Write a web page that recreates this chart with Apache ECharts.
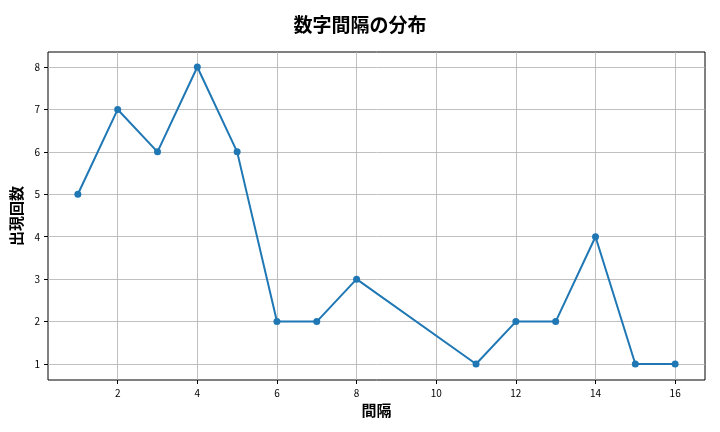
<!DOCTYPE html>
<html><head><meta charset="utf-8">
<script src="https://cdn.jsdelivr.net/npm/echarts@6/dist/echarts.min.js"></script>
<style>body{margin:0}#c{width:720px;height:432px}</style>
</head><body><div id="c"></div>
<script>
var gaps = [1, 2, 3, 4, 5, 6, 7, 8, 11, 12, 13, 14, 15, 16];
var counts = [5, 7, 6, 8, 6, 2, 2, 3, 1, 2, 2, 4, 1, 1];
var xTicks = [2, 4, 6, 8, 10, 12, 14, 16];
var yTicks = [1, 2, 3, 4, 5, 6, 7, 8];

var font = '"Noto Sans CJK JP", "DejaVu Sans", sans-serif';
var chart = echarts.init(document.getElementById('c'));
chart.setOption({
  animation: false,
  textStyle: { fontFamily: font },
  title: { text: '数字間隔の分布', left: 'center', top: 10,
    textStyle: { fontSize: 19, fontWeight: 'bold', color: '#000', fontFamily: font } },
  grid: { left: 48, right: 15, top: 52, bottom: 52, show: true, borderColor: '#000', borderWidth: 1 },
  xAxis: {
    type: 'value', min: 0.25, max: 16.75,
    name: '間隔', nameLocation: 'middle', nameGap: 20,
    nameTextStyle: { fontSize: 15, fontWeight: 'bold', color: '#000', fontFamily: font },
    axisLine: { show: false },
    axisTick: { show: true, customValues: xTicks, length: 4, lineStyle: { color: '#000' } },
    axisLabel: { customValues: xTicks, fontSize: 10, color: '#000' },
    splitLine: { show: true, lineStyle: { color: '#b0b0b0', width: 0.8 } }
  },
  yAxis: {
    type: 'value', min: 0.623, max: 8.354,
    name: '出現回数', nameLocation: 'middle', nameGap: 20,
    nameTextStyle: { fontSize: 15, fontWeight: 'bold', color: '#000', fontFamily: font },
    axisLine: { show: false },
    axisTick: { show: true, customValues: yTicks, length: 4, lineStyle: { color: '#000' } },
    axisLabel: { customValues: yTicks, fontSize: 10, color: '#000' },
    splitLine: { show: true, lineStyle: { color: '#b0b0b0', width: 0.8 } }
  },
  series: [{
    type: 'line',
    data: gaps.map(function (g, i) { return [g, counts[i]]; }),
    symbol: 'circle', symbolSize: 7,
    lineStyle: { color: '#1f77b4', width: 2 },
    itemStyle: { color: '#1f77b4' }
  }]
});
</script></body></html>
